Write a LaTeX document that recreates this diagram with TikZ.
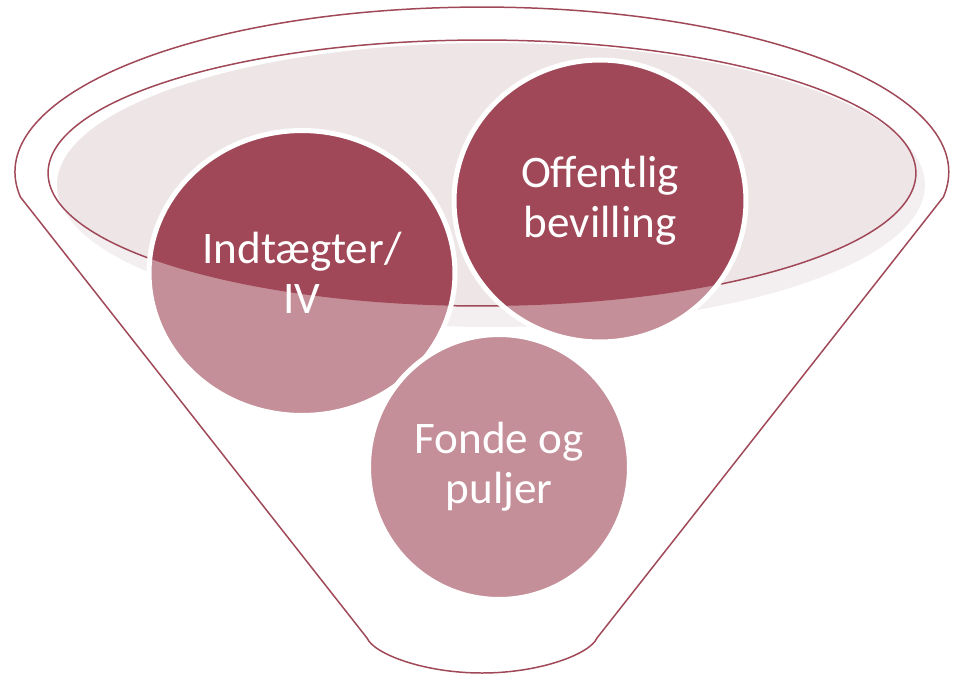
\documentclass[tikz,border=0pt]{standalone}
\usepackage{fontspec}
\setmainfont{Carlito}
\usetikzlibrary{shapes.geometric}
\definecolor{wine}{HTML}{A04858}
\definecolor{rose}{HTML}{C48F98}
\definecolor{blush}{HTML}{EEE5E7}
\definecolor{mist}{HTML}{F3EEEF}
\begin{document}
\begin{tikzpicture}[x=0.02cm, y=-0.02cm,
    rim/.style={draw=wine, line width=0.85pt},
    ball/.style={ellipse, draw=white, line width=2.85pt, fill=rose, text=white,
      align=center, inner sep=0pt, font=\fontsize{25.7}{28.5}\selectfont,
      path picture={\fill[wine] (mouth) ellipse [x radius=\rx, y radius=\ry];}}]
  \def \rx {8.68cm}
  \def \ry {2.66cm}
  \useasboundingbox (0,0) rectangle (954,677);

  \coordinate (mouth) at (482,173);
  \coordinate (lip) at (20.4,197);

  % funnel body
  \draw[rim] (lip) arc [start angle=188.71, end angle=-8.71, x radius=9.34cm, y radius=3.3cm]
    -- (597,638) .. controls (590,654) and (540,673) .. (482,673)
    .. controls (424,673) and (374,654) .. (367,638) -- cycle;

  % opening
  \fill[mist] (491,185) ellipse [x radius=8.68cm, y radius=2.84cm];
  \begin{scope}
    \clip (mouth) ellipse [x radius=\rx, y radius=\ry];
    \fill[blush] (491,185) ellipse [x radius=8.68cm, y radius=2.84cm];
  \end{scope}
  \draw[rim] (mouth) ellipse [x radius=\rx, y radius=\ry];

  \node[ball, minimum width=6.12cm, minimum height=5.7cm] (income) at (302,273) {Indtægter/\\IV};
  \node[ball, minimum width=5.84cm, minimum height=5.64cm] (grant) at (600,201) {Offentlig\\bevilling};
  \node[ball, minimum width=5.22cm, minimum height=5.3cm] (funds) at (499,467) {Fonde og\\puljer};
\end{tikzpicture}
\end{document}
